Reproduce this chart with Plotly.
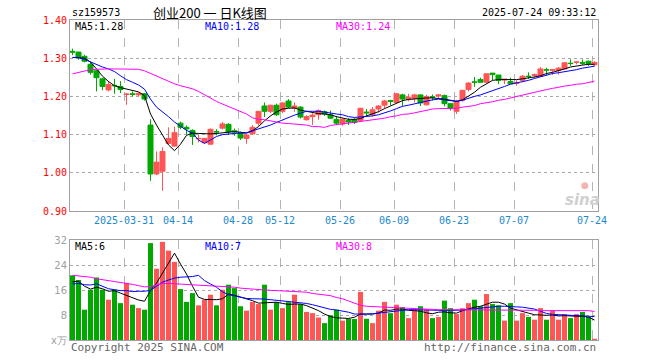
import plotly.graph_objects as go

# ---------------- data ----------------
dates = ["2025-03-18","2025-03-19","2025-03-20","2025-03-21","2025-03-24","2025-03-25","2025-03-26","2025-03-27","2025-03-28","2025-03-31",
         "2025-04-01","2025-04-02","2025-04-03","2025-04-07","2025-04-08","2025-04-09","2025-04-10","2025-04-11","2025-04-14","2025-04-15",
         "2025-04-16","2025-04-17","2025-04-18","2025-04-21","2025-04-22","2025-04-23","2025-04-24","2025-04-25","2025-04-28","2025-04-29",
         "2025-04-30","2025-05-06","2025-05-07","2025-05-08","2025-05-09","2025-05-12","2025-05-13","2025-05-14","2025-05-15","2025-05-16",
         "2025-05-19","2025-05-20","2025-05-21","2025-05-22","2025-05-23","2025-05-26","2025-05-27","2025-05-28","2025-05-29","2025-05-30",
         "2025-06-03","2025-06-04","2025-06-05","2025-06-06","2025-06-09","2025-06-10","2025-06-11","2025-06-12","2025-06-13","2025-06-16",
         "2025-06-17","2025-06-18","2025-06-19","2025-06-20","2025-06-23","2025-06-24","2025-06-25","2025-06-26","2025-06-27","2025-06-30",
         "2025-07-01","2025-07-02","2025-07-03","2025-07-04","2025-07-07","2025-07-08","2025-07-09","2025-07-10","2025-07-11","2025-07-14",
         "2025-07-15","2025-07-16","2025-07-17","2025-07-18","2025-07-21","2025-07-22","2025-07-23","2025-07-24"]

opens = [1.318,1.316,1.305,1.284,1.267,1.246,1.217,1.229,1.226,1.205,
         1.207,1.204,1.207,1.125,0.997,1.004,1.077,1.070,1.130,1.119,
         1.111,1.089,1.079,1.075,1.108,1.117,1.127,1.110,1.105,1.090,
         1.102,1.130,1.175,1.161,1.177,1.161,1.188,1.169,1.172,1.139,
         1.147,1.152,1.160,1.152,1.140,1.128,1.137,1.139,1.137,1.159,
         1.152,1.167,1.177,1.189,1.184,1.204,1.193,1.195,1.204,1.178,
         1.199,1.201,1.202,1.181,1.161,1.190,1.218,1.238,1.244,1.237,
         1.261,1.256,1.243,1.239,1.234,1.242,1.253,1.255,1.253,1.270,
         1.268,1.268,1.272,1.287,1.289,1.288,1.292,1.283]
highs = [1.325,1.317,1.309,1.291,1.269,1.249,1.240,1.246,1.240,1.209,
         1.213,1.211,1.209,1.140,1.056,1.067,1.119,1.121,1.134,1.124,
         1.114,1.099,1.091,1.116,1.114,1.133,1.130,1.116,1.108,1.103,
         1.125,1.161,1.184,1.177,1.181,1.184,1.193,1.184,1.174,1.151,
         1.156,1.166,1.163,1.163,1.149,1.140,1.143,1.143,1.170,1.167,
         1.172,1.177,1.191,1.191,1.209,1.207,1.207,1.207,1.205,1.204,
         1.205,1.205,1.205,1.183,1.191,1.217,1.237,1.251,1.249,1.260,
         1.261,1.256,1.245,1.249,1.242,1.256,1.263,1.260,1.277,1.275,
         1.272,1.277,1.289,1.297,1.292,1.297,1.294,1.292]
lows = [1.308,1.296,1.289,1.257,1.213,1.216,1.213,1.207,1.209,1.178,
        1.200,1.200,1.189,0.979,0.994,0.953,1.075,1.068,1.114,1.100,
        1.073,1.080,1.077,1.074,1.098,1.114,1.099,1.097,1.086,1.076,
        1.099,1.123,1.146,1.156,1.149,1.156,1.169,1.160,1.142,1.137,
        1.125,1.139,1.149,1.141,1.125,1.123,1.125,1.128,1.135,1.147,
        1.147,1.158,1.168,1.177,1.182,1.175,1.187,1.184,1.175,1.176,
        1.189,1.193,1.174,1.163,1.154,1.186,1.213,1.225,1.240,1.235,
        1.242,1.232,1.232,1.234,1.228,1.237,1.246,1.248,1.251,1.254,
        1.256,1.257,1.270,1.280,1.284,1.282,1.280,1.279]
closes = [1.316,1.303,1.292,1.263,1.249,1.226,1.231,1.228,1.218,1.206,
          1.205,1.208,1.193,0.997,1.028,1.056,1.090,1.105,1.119,1.115,
          1.095,1.090,1.090,1.114,1.107,1.128,1.107,1.107,1.091,1.099,
          1.119,1.161,1.161,1.177,1.152,1.183,1.172,1.175,1.146,1.147,
          1.151,1.163,1.154,1.143,1.130,1.140,1.133,1.132,1.169,1.157,
          1.165,1.175,1.188,1.187,1.207,1.193,1.198,1.204,1.183,1.200,
          1.198,1.204,1.181,1.168,1.187,1.216,1.235,1.237,1.237,1.259,
          1.257,1.242,1.245,1.233,1.236,1.253,1.252,1.257,1.272,1.269,
          1.270,1.274,1.288,1.286,1.290,1.287,1.286,1.289]

ma5 = [1.302,1.302,1.300,1.290,1.272,1.253,1.239,1.228,1.223,1.219,
       1.217,1.212,1.202,1.154,1.125,1.099,1.073,1.058,1.075,1.098,
       1.104,1.103,1.102,1.102,1.103,1.105,1.107,1.108,1.106,1.105,
       1.110,1.121,1.136,1.149,1.159,1.167,1.169,1.170,1.164,1.161,
       1.158,1.155,1.154,1.152,1.147,1.143,1.140,1.140,1.142,1.149,
       1.154,1.160,1.168,1.175,1.182,1.189,1.192,1.194,1.195,1.196,
       1.196,1.195,1.193,1.190,1.187,1.191,1.200,1.211,1.224,1.233,
       1.242,1.244,1.244,1.244,1.244,1.246,1.248,1.251,1.254,1.260,
       1.263,1.267,1.272,1.277,1.280,1.282,1.284,1.284]
ma10 = [1.302,1.301,1.297,1.290,1.283,1.277,1.272,1.265,1.254,1.244,
        1.237,1.230,1.219,1.193,1.172,1.160,1.147,1.133,1.121,1.111,
        1.104,1.086,1.077,1.086,1.095,1.100,1.102,1.103,1.104,1.104,
        1.110,1.115,1.119,1.125,1.132,1.139,1.144,1.151,1.156,1.161,
        1.161,1.161,1.159,1.156,1.154,1.152,1.147,1.145,1.146,1.147,
        1.149,1.152,1.156,1.162,1.168,1.174,1.177,1.181,1.183,1.188,
        1.191,1.193,1.191,1.190,1.187,1.190,1.196,1.200,1.204,1.209,
        1.214,1.219,1.226,1.232,1.235,1.239,1.242,1.247,1.252,1.256,
        1.260,1.262,1.264,1.267,1.270,1.274,1.276,1.279]
ma30 = [1.259,1.263,1.268,1.270,1.271,1.272,1.272,1.272,1.272,1.272,
        1.272,1.271,1.267,1.260,1.253,1.246,1.240,1.233,1.228,1.224,
        1.220,1.213,1.204,1.196,1.187,1.180,1.174,1.167,1.161,1.154,
        1.144,1.140,1.139,1.136,1.133,1.130,1.129,1.128,1.126,1.125,
        1.121,1.121,1.119,1.124,1.126,1.128,1.130,1.133,1.134,1.136,
        1.138,1.140,1.143,1.147,1.149,1.153,1.154,1.157,1.160,1.164,
        1.167,1.168,1.168,1.168,1.169,1.172,1.174,1.176,1.181,1.183,
        1.186,1.190,1.192,1.196,1.200,1.204,1.208,1.211,1.215,1.218,
        1.221,1.225,1.227,1.229,1.232,1.233,1.237,1.240]

volume = [20.7,19.2,9.7,16.1,20.0,16.1,12.9,16.1,11.8,18.2,
          11.3,10.2,9.7,31.0,22.8,31.4,28.6,25.0,16.3,12.2,
          15.0,11.1,12.9,14.5,11.1,16.1,17.7,16.6,10.8,9.4,
          12.2,11.5,17.7,9.7,12.1,10.2,12.1,14.5,11.5,9.0,
          8.6,7.2,5.4,7.9,9.7,6.2,6.8,6.7,15.4,6.8,
          5.4,9.4,12.2,8.6,11.3,10.5,7.0,9.7,10.8,9.7,
          7.0,7.4,12.6,10.2,8.3,10.2,11.8,12.9,10.8,14.7,
          11.5,11.1,6.2,11.8,6.2,8.6,7.4,6.5,10.2,6.5,
          9.4,6.5,8.3,7.0,8.3,9.0,7.4,0.4]
vol_ma5 = [18.6,18.8,17.2,16.3,16.9,16.4,15.6,15.8,15.0,14.3,
           13.4,12.8,12.4,15.8,18.2,21.4,25.0,27.8,24.3,21.1,
           17.2,13.7,13.0,12.9,12.9,13.2,14.7,14.3,13.8,13.2,
           12.6,11.8,11.9,12.2,12.1,11.7,11.4,11.5,11.5,11.0,
           10.2,9.4,8.3,7.5,7.1,6.9,6.9,7.3,8.3,8.3,
           8.3,8.6,9.6,9.5,9.9,9.9,9.5,9.4,9.2,8.7,
           8.4,8.9,9.0,8.7,8.6,9.4,10.0,10.5,10.8,11.5,
           12.1,12.1,11.5,10.2,9.6,9.2,8.6,8.1,7.9,7.9,
           8.0,7.7,7.8,7.6,7.6,7.6,7.3,6.4]
vol_ma10 = [17.9,18.1,17.7,17.6,18.0,17.2,16.4,16.1,15.8,15.8,
            15.5,15.6,15.6,15.9,17.2,18.5,19.2,19.8,20.1,20.1,
            20.3,20.7,19.0,17.9,16.9,15.4,14.5,14.1,13.7,13.3,
            13.2,13.2,13.1,12.9,12.7,12.6,12.4,12.1,11.8,11.7,
            11.3,10.8,10.1,9.8,9.6,9.3,8.9,8.3,8.2,8.3,
            8.4,8.6,9.0,9.0,9.3,9.6,9.7,9.7,9.7,9.7,
            9.6,9.5,9.4,9.4,9.4,9.6,9.8,10.0,10.2,10.5,
            10.7,10.8,10.8,10.8,10.6,10.5,10.2,9.9,9.2,8.5,
            8.2,8.1,8.0,7.9,7.9,7.9,7.8,7.5]
vol_ma30 = [20.7,20.5,20.4,20.1,19.6,19.3,19.1,18.9,18.6,18.2,
            17.8,17.4,17.0,17.1,17.6,18.1,18.1,18.0,17.9,17.8,
            17.7,17.5,17.3,17.2,17.2,17.1,17.0,16.9,16.6,16.4,
            16.2,16.1,16.0,15.9,15.8,15.7,15.6,15.5,15.4,15.3,
            14.9,14.7,14.5,14.2,13.6,13.2,12.5,11.7,11.1,10.8,
            10.7,10.5,10.5,10.3,10.2,10.1,10.0,9.9,9.8,9.7,
            9.7,9.7,9.7,9.7,9.7,9.7,9.7,9.7,9.7,9.7,
            9.7,9.7,9.7,9.7,9.7,9.7,9.6,9.5,9.4,9.4,
            9.4,9.4,9.4,9.4,9.4,9.4,9.4,9.1]

tick_dates = ["2025-03-31","2025-04-14","2025-04-28","2025-05-12","2025-05-26",
              "2025-06-09","2025-06-23","2025-07-07","2025-07-24"]
tick_labels = ["2025-03-31","04-14","04-28","05-12","05-26","06-09","06-23","07-07","07-24"]
price_ticks = [0.9, 1.0, 1.1, 1.2, 1.3, 1.4]
vol_ticks = [0, 8, 16, 24, 32]
vol_tick_labels = ["x万", "8", "16", "24", "32"]

# ---------------- figure ----------------
RED = "#ff5555"
GREEN = "#00a800"
x = list(range(len(dates)))
off = 2.5 / 6.0
tickpos = [dates.index(d) - off for d in tick_dates]
vol_colors = [RED if c >= o else GREEN for o, c in zip(opens, closes)]

fig = go.Figure()
fig.add_trace(go.Candlestick(
    x=x, open=opens, high=highs, low=lows, close=closes,
    increasing=dict(line=dict(color=RED, width=1), fillcolor=RED),
    decreasing=dict(line=dict(color=GREEN, width=1), fillcolor=GREEN),
    whiskerwidth=0, xaxis="x", yaxis="y", hoverinfo="skip"))
for vals, col in [(ma5, "#000000"), (ma10, "#0000ff"), (ma30, "#ff00ff")]:
    fig.add_trace(go.Scatter(x=x, y=vals, mode="lines", line=dict(color=col, width=1),
                             xaxis="x", yaxis="y", hoverinfo="skip"))
fig.add_trace(go.Bar(x=x, y=volume, marker=dict(color=vol_colors, line=dict(width=0)),
                     xaxis="x2", yaxis="y2", hoverinfo="skip"))
for vals, col in [(vol_ma5, "#000000"), (vol_ma10, "#0000ff"), (vol_ma30, "#ff00ff")]:
    fig.add_trace(go.Scatter(x=x, y=vals, mode="lines", line=dict(color=col, width=1),
                             xaxis="x2", yaxis="y2", hoverinfo="skip"))

MONO = "DejaVu Sans Mono"
xr = [-off, len(dates) - off]
common_x = dict(range=xr, tickvals=tickpos, ticktext=tick_labels, showgrid=True,
                gridcolor="#b4b4b4", griddash="dash", gridwidth=1, zeroline=False,
                showline=True, mirror=True, linecolor="#a0a0a0", linewidth=1, ticks="",
                fixedrange=True)
fig.update_layout(
    width=660, height=360,
    margin=dict(l=70, r=62, t=20, b=20),
    paper_bgcolor="white", plot_bgcolor="white",
    showlegend=False,
    boxgap=0.17, boxgroupgap=0.0, bargap=1/6,
    xaxis=dict(**common_x, anchor="y", showticklabels=True,
               tickfont=dict(family=MONO, size=10, color="#2288cc"),
               rangeslider=dict(visible=False)),
    yaxis=dict(domain=[0.403, 1.0], range=[0.9, 1.4], tickvals=price_ticks,
               ticktext=["%.2f" % v for v in price_ticks],
               tickfont=dict(family=MONO, size=10, color="#ff0000"),
               showgrid=True, gridcolor="#a8a8a8", griddash="dot", zeroline=False,
               showline=True, mirror=True, linecolor="#a0a0a0", ticks="", fixedrange=True),
    xaxis2=dict(**common_x, anchor="y2", matches="x", showticklabels=False),
    yaxis2=dict(domain=[0.0, 0.3125], range=[0, 32], tickvals=vol_ticks,
                ticktext=vol_tick_labels,
                tickfont=dict(family="DejaVu Sans", size=10, color="#a0a0a0"),
                showgrid=True, gridcolor="#a8a8a8", griddash="dot", zeroline=False,
                showline=True, mirror=True, linecolor="#a0a0a0", ticks="", fixedrange=True),
)

def px_text(px, py, text, color="#000000", size=10, family=MONO, xanchor="left"):
    fig.add_annotation(x=(px - 70) / 528.0, y=(340 - py) / 320.0, xref="paper", yref="paper",
                       text=text, showarrow=False, xanchor=xanchor, yanchor="middle",
                       font=dict(family=family, size=size, color=color))

px_text(70, 13, "sz159573")
px_text(210, 13, "创业200 一 日K线图", size=13, family="Noto Sans CJK SC", xanchor="center")
px_text(598, 13, "2025-07-24 09:33:12", xanchor="right")
px_text(73, 26, "MA5:1.28")
px_text(203, 26, "MA10:1.28", color="#0000ff")
px_text(334, 26, "MA30:1.24", color="#ff00ff")
px_text(73, 246, "MA5:6")
px_text(203, 246, "MA10:7", color="#0000ff")
px_text(334, 246, "MA30:8", color="#ff00ff")
px_text(69, 347, "Copyright 2025 SINA.COM", color="#666666", size=11)
px_text(598, 347, "http://finance.sina.com.cn", color="#666666", size=11, xanchor="right")
px_text(582, 200, "<b><i>sina</i></b>", color="#d0d0d0", size=15, family="DejaVu Sans", xanchor="center")
px_text(585, 185, "●", color="#f3b3b3", size=9, family="DejaVu Sans", xanchor="center")

fig.write_html("out.html", config={"displayModeBar": False, "staticPlot": True},
               post_script="document.body.style.margin='0';")
